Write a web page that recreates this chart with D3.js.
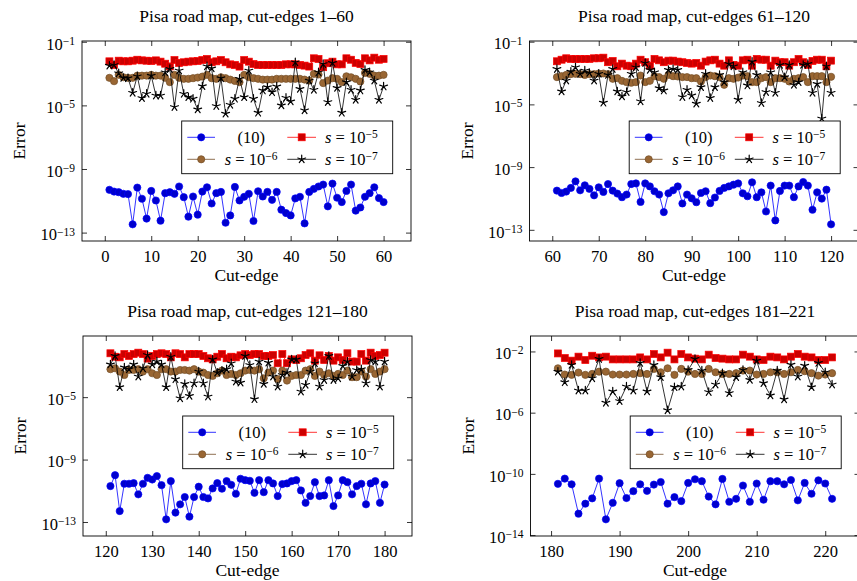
<!DOCTYPE html>
<html>
<head>
<meta charset="utf-8">
<script src="https://cdn.jsdelivr.net/npm/d3@7"></script>
<style>
  body { margin: 0; background: #fff; }
  svg { display: block; }
  text { font-family: "Liberation Serif", "Times New Roman", serif; fill: #000; }
</style>
</head>
<body>
<svg id="chart" width="857" height="581"></svg>
<script>
// Cut-edge indices of the Pisa road map
const cutEdges = d3.range(1, 222);

// log10 of the error, formula (10)
const logErrEq10 = [
  // 1-60
  -10.31,-10.42,-10.46,-10.56,-10.58,-12.48,-10.17,-10.87,-12.12,-10.38,
  -10.98,-12.25,-10.52,-10.46,-10.56,-10.10,-10.77,-12.00,-10.73,-11.87,
  -10.42,-10.15,-11.17,-10.52,-10.44,-12.38,-11.92,-10.13,-10.98,-10.75,
  -10.56,-12.27,-10.40,-10.73,-10.44,-10.94,-10.44,-11.56,-11.77,-11.92,
  -10.85,-10.75,-12.42,-10.44,-10.25,-10.10,-9.98,-11.35,-9.92,-10.81,
  -11.08,-10.38,-9.98,-11.62,-11.42,-10.75,-10.52,-10.15,-10.83,-11.08,
  // 61-120
  -10.50,-10.65,-10.56,-10.33,-9.91,-10.48,-10.16,-10.39,-10.80,-10.29,
  -10.58,-10.08,-10.50,-10.69,-10.92,-10.75,-10.08,-10.04,-11.22,-10.04,
  -10.23,-10.54,-10.75,-11.87,-10.67,-10.48,-10.23,-11.32,-10.75,-10.99,
  -11.24,-10.65,-10.54,-11.30,-10.94,-10.52,-10.33,-10.23,-10.12,-10.04,
  -10.67,-10.86,-9.97,-10.92,-10.61,-11.83,-10.18,-12.40,-10.52,-10.18,
  -10.18,-10.92,-10.23,-9.95,-10.18,-11.72,-10.61,-11.01,-10.44,-12.65,
  // 121-180
  -10.70,-10.00,-12.30,-10.55,-10.55,-10.51,-11.23,-10.55,-10.17,-10.28,
  -10.06,-10.64,-12.83,-10.38,-12.40,-11.87,-11.40,-12.66,-11.40,-10.74,
  -11.40,-11.49,-10.85,-10.51,-10.87,-10.38,-10.62,-11.19,-10.23,-10.32,
  -10.36,-11.13,-10.32,-11.09,-10.32,-10.53,-11.34,-10.57,-10.53,-10.38,
  -10.32,-10.98,-11.77,-11.34,-10.45,-11.34,-11.30,-10.32,-11.98,-11.30,
  -10.32,-10.45,-11.23,-10.70,-10.55,-11.87,-10.53,-10.38,-11.77,-10.60,
  // 181-221
  -10.65,-10.31,-10.68,-12.60,-11.95,-11.60,-10.31,-12.97,-11.89,-10.61,
  -11.58,-11.13,-10.68,-11.11,-10.70,-10.53,-11.95,-11.52,-11.78,-10.59,
  -10.35,-10.48,-11.48,-11.99,-10.33,-11.82,-11.63,-10.76,-11.82,-10.63,
  -11.69,-10.48,-10.48,-10.68,-10.40,-11.73,-10.59,-11.30,-10.42,-10.63,
  -11.63
];

// log10 of the error, s = 1e-5
const logErrS5 = [
  -2.23,-2.45,-2.19,-2.23,-2.23,-2.19,-2.13,-2.17,-2.19,-2.21,
  -2.17,-2.25,-2.38,-2.55,-2.15,-2.33,-2.29,-2.25,-2.23,-2.21,
  -2.15,-2.08,-2.29,-2.23,-2.15,-2.29,-2.42,-2.46,-2.56,-2.15,
  -2.25,-2.40,-2.46,-2.46,-2.46,-2.46,-2.46,-2.46,-2.42,-2.42,
  -2.42,-2.46,-2.50,-2.56,-2.04,-2.08,-2.60,-2.35,-2.25,-2.42,
  -2.42,-2.04,-2.13,-2.33,-2.40,-2.04,-2.17,-2.00,-2.13,-2.08,
  -2.25,-2.15,-2.06,-2.10,-2.10,-2.10,-2.10,-2.10,-2.06,-2.06,
  -2.02,-2.31,-2.23,-2.57,-2.40,-2.53,-2.57,-2.40,-2.15,-2.31,
  -2.53,-2.10,-2.19,-2.31,-2.21,-2.21,-2.27,-2.31,-2.36,-2.40,
  -2.36,-2.53,-2.27,-2.19,-2.15,-2.40,-2.53,-2.19,-2.48,-2.53,
  -2.19,-2.15,-2.53,-2.10,-2.15,-2.15,-2.53,-2.21,-2.31,-2.31,
  -2.53,-2.31,-2.10,-2.31,-2.48,-2.23,-2.15,-2.15,-2.57,-2.21,
  -2.19,-2.41,-2.45,-2.24,-2.36,-2.24,-2.15,-2.24,-2.53,-2.36,
  -2.24,-2.19,-2.24,-2.45,-2.19,-2.24,-2.45,-2.24,-2.24,-2.24,
  -2.36,-2.51,-2.58,-2.41,-2.24,-2.51,-2.41,-2.45,-2.32,-2.24,
  -2.30,-2.24,-2.24,-2.36,-2.36,-2.30,-2.83,-2.24,-2.83,-2.58,
  -2.62,-2.51,-2.30,-2.19,-2.66,-2.32,-2.62,-2.36,-2.66,-2.45,
  -2.62,-2.19,-2.72,-2.72,-2.24,-2.66,-2.15,-2.36,-2.30,-2.15,
  -2.13,-2.43,-2.60,-2.34,-2.56,-2.28,-2.39,-2.34,-2.52,-2.52,
  -2.52,-2.52,-2.39,-2.52,-2.17,-2.39,-2.08,-2.52,-2.17,-2.39,
  -2.47,-2.52,-2.21,-2.43,-2.47,-2.52,-2.52,-2.21,-2.34,-2.52,
  -2.56,-2.34,-2.39,-2.52,-2.34,-2.17,-2.34,-2.39,-2.56,-2.56,
  -2.39
];

// log10 of the error, s = 1e-6
const logErrS6 = [
  -3.27,-3.48,-3.08,-3.23,-3.27,-3.27,-3.13,-3.13,-3.13,-3.08,
  -3.13,-3.13,-3.27,-3.54,-3.08,-3.27,-3.33,-3.33,-3.29,-3.25,
  -3.19,-3.08,-3.29,-3.33,-3.23,-3.29,-3.38,-3.46,-3.54,-3.08,
  -3.23,-3.29,-3.33,-3.38,-3.38,-3.38,-3.33,-3.33,-3.33,-3.33,
  -3.33,-3.33,-3.38,-3.44,-3.02,-3.06,-3.60,-3.44,-3.29,-3.33,
  -3.54,-3.17,-3.23,-3.33,-3.50,-2.96,-3.02,-3.13,-3.13,-3.08,
  -3.26,-3.20,-3.12,-3.07,-3.05,-3.07,-3.12,-3.07,-3.07,-3.03,
  -3.03,-3.07,-3.37,-3.33,-3.50,-3.58,-3.62,-3.58,-3.16,-3.58,
  -3.50,-3.20,-3.26,-3.37,-3.12,-3.20,-3.22,-3.26,-3.26,-3.33,
  -3.33,-3.54,-3.26,-3.16,-3.20,-3.26,-3.75,-3.33,-3.37,-3.29,
  -3.16,-3.20,-3.58,-3.58,-3.33,-3.26,-3.58,-3.33,-3.33,-3.37,
  -3.54,-3.37,-3.33,-3.26,-3.58,-3.20,-3.20,-3.20,-3.58,-3.24,
  -3.21,-3.15,-3.36,-3.58,-3.26,-3.26,-3.21,-3.36,-3.21,-3.47,
  -3.58,-3.21,-3.21,-3.36,-3.36,-3.26,-3.26,-3.30,-3.21,-3.36,
  -3.43,-3.58,-3.64,-3.47,-3.30,-3.58,-3.51,-3.58,-3.47,-3.30,
  -3.26,-3.30,-3.21,-3.79,-3.43,-3.30,-3.85,-3.30,-3.94,-3.64,
  -3.58,-3.58,-3.30,-3.21,-3.64,-3.36,-3.58,-3.47,-3.64,-3.51,
  -3.58,-3.30,-3.72,-3.72,-3.36,-3.68,-3.21,-3.51,-3.36,-3.21,
  -3.10,-3.51,-3.53,-3.38,-3.53,-3.47,-3.32,-3.32,-3.51,-3.51,
  -3.51,-3.47,-3.42,-3.47,-3.14,-3.36,-3.10,-3.53,-3.14,-3.32,
  -3.47,-3.47,-3.14,-3.36,-3.47,-3.47,-3.42,-3.25,-3.25,-3.51,
  -3.47,-3.36,-3.36,-3.47,-3.36,-3.21,-3.29,-3.42,-3.58,-3.51,
  -3.42
];

// log10 of the error, s = 1e-7
const logErrS7 = [
  -2.50,-2.46,-2.98,-3.27,-3.29,-4.21,-3.17,-4.54,-4.27,-3.13,
  -4.38,-4.38,-2.92,-2.71,-5.10,-2.81,-4.27,-4.48,-4.58,-5.25,
  -3.79,-2.54,-2.67,-5.04,-3.29,-5.52,-4.96,-4.58,-3.33,-4.48,
  -2.81,-4.58,-5.46,-4.06,-3.85,-4.17,-3.81,-5.00,-4.52,-4.75,
  -2.29,-3.96,-5.31,-3.44,-4.02,-2.92,-2.40,-4.79,-2.33,-3.90,
  -5.46,-3.54,-4.02,-4.65,-4.06,-2.77,-2.92,-3.44,-4.65,-3.81,
  -2.74,-4.17,-3.48,-2.91,-2.63,-3.05,-2.84,-2.99,-3.48,-3.05,
  -4.89,-3.12,-2.74,-4.17,-4.49,-4.21,-3.05,-2.63,-4.80,-2.36,
  -2.80,-2.95,-3.96,-4.11,-2.80,-2.74,-2.80,-4.53,-4.07,-4.43,
  -4.95,-3.90,-3.05,-4.59,-3.90,-3.12,-3.58,-2.42,-2.57,-4.70,
  -2.95,-3.79,-2.27,-3.12,-4.91,-4.21,-2.95,-4.26,-2.48,-3.26,
  -2.48,-3.75,-3.58,-2.48,-2.42,-4.26,-3.69,-5.90,-2.57,-4.26,
  -2.90,-2.36,-4.36,-3.09,-3.21,-2.90,-3.68,-3.15,-2.30,-2.90,
  -2.72,-2.90,-4.36,-2.41,-3.85,-5.07,-4.15,-4.92,-4.11,-3.36,
  -4.11,-4.96,-2.58,-3.43,-3.30,-3.21,-2.83,-4.00,-4.07,-2.36,
  -2.94,-5.13,-2.72,-4.15,-2.79,-3.68,-4.32,-3.58,-3.43,-2.58,
  -2.58,-4.64,-4.21,-3.36,-2.83,-4.32,-3.90,-2.36,-3.90,-3.79,
  -3.00,-2.72,-3.68,-3.26,-3.21,-4.11,-2.62,-2.72,-4.32,-2.72,
  -3.32,-4.01,-2.88,-4.55,-4.55,-3.75,-2.49,-5.35,-4.61,-5.24,
  -4.29,-4.55,-2.75,-4.61,-2.88,-3.68,-5.84,-4.33,-4.29,-3.21,
  -2.49,-3.25,-4.65,-4.16,-3.42,-4.72,-3.68,-3.21,-3.86,-2.60,
  -4.07,-4.87,-3.25,-5.13,-2.86,-3.64,-2.93,-4.33,-2.75,-3.36,
  -4.16
];

// Cut-edge ranges shown in each panel, and the exponents labelled on their y axes
const panelRanges = [[1, 60], [61, 120], [121, 180], [181, 221]];
const xTickValues = [d3.range(0, 61, 10), d3.range(60, 121, 10), d3.range(120, 181, 10), d3.range(180, 221, 10)];
const yTickExponents = [[-1, -5, -9, -13], [-1, -5, -9, -13], [-1, -5, -9, -13], [-2, -6, -10, -14]];

const legendLabels = ["(10)", "1e-5", "1e-6", "1e-7"];

// ---- layout and styles ----
const panelBoxes = [
  { left: 82, top: 41 }, { left: 529.5, top: 41 },
  { left: 83, top: 336 }, { left: 530.5, top: 336 }
];
const plotW = 329, plotH = 200;

const seriesStyles = [
  { values: logErrEq10, line: "#0000ff", mark: "circle", fill: "#0000cc", stroke: "#0000ff" },
  { values: logErrS5, line: "#ff0000", mark: "square", fill: "#cc0000", stroke: "#ff0000" },
  { values: logErrS6, line: "#734d26", mark: "circle", fill: "#996633", stroke: "#734d26" },
  { values: logErrS7, line: "#000000", mark: "star", fill: "none", stroke: "#000000" }
];

const svg = d3.select("#chart");

function drawMark(sel, style, cx, cy) {
  if (style.mark === "circle") {
    sel.append("circle").attr("cx", cx).attr("cy", cy).attr("r", 3.6)
      .attr("fill", style.fill).attr("stroke", style.stroke).attr("stroke-width", 0.7);
  } else if (style.mark === "square") {
    sel.append("rect").attr("x", cx - 3.5).attr("y", cy - 3.5).attr("width", 7).attr("height", 7)
      .attr("fill", style.fill).attr("stroke", style.stroke).attr("stroke-width", 0.7);
  } else {
    const r = 4.1;
    let d = "";
    for (let k = 0; k < 5; k++) {
      const a = -Math.PI / 2 + k * 2 * Math.PI / 5;
      d += `M${cx},${cy}L${cx + r * Math.cos(a)},${cy + r * Math.sin(a)}`;
    }
    sel.append("path").attr("d", d).attr("stroke", style.stroke).attr("stroke-width", 1.2)
      .attr("fill", "none").attr("stroke-linecap", "round");
  }
}

// "s = 10^-k" style labels: italic s, superscripted exponent
function writeLabel(textSel, label) {
  if (label.startsWith("1e")) {
    const exp = label.slice(3);
    textSel.append("tspan").attr("font-style", "italic").text("s");
    textSel.append("tspan").text(" = 10");
    textSel.append("tspan").attr("dy", "-0.45em").attr("font-size", "11.5px").text("\u2212" + exp);
  } else {
    textSel.text(label);
  }
}

panelRanges.forEach(([first, last], p) => {
  const { left, top } = panelBoxes[p];
  const bottom = top + plotH, right = left + plotW;
  const idx = cutEdges.map((e, i) => i).filter(i => cutEdges[i] >= first && cutEdges[i] <= last);

  // x: 10% enlargement of the index range on each side
  const xPad = 0.1 * (last - first);
  const x = d3.scaleLinear().domain([first - xPad, last + xPad]).range([left, right]);

  // y: log axis, 10% enlargement in decades
  const all = [];
  seriesStyles.forEach(s => idx.forEach(i => all.push(s.values[i])));
  const lo = d3.min(all), hi = d3.max(all), yPad = 0.1 * (hi - lo);
  const y = d3.scaleLog().domain([10 ** (lo - yPad), 10 ** (hi + yPad)]).range([bottom, top]);

  const g = svg.append("g");

  // data series
  seriesStyles.forEach(s => {
    const pts = idx.map(i => ({ e: cutEdges[i], v: 10 ** s.values[i] }));
    g.append("path").datum(pts)
      .attr("fill", "none").attr("stroke", s.line).attr("stroke-width", 0.8)
      .attr("d", d3.line().x(d => x(d.e)).y(d => y(d.v)));
    const mg = g.append("g");
    pts.forEach(d => drawMark(mg, s, x(d.e), y(d.v)));
  });

  // axes with inward ticks on all four sides
  const yTicks = yTickExponents[p].filter(e => e >= lo - yPad - 1e-9 && e <= hi + yPad + 1e-9).map(e => 10 ** e);
  const xTicks = xTickValues[p];

  const gx = g.append("g").attr("transform", `translate(0,${bottom})`)
    .call(d3.axisBottom(x).tickValues(xTicks).tickSizeInner(-5).tickSizeOuter(0).tickPadding(9).tickFormat(d3.format("d")));
  gx.attr("font-size", 16.5).attr("font-family", null);
  g.append("g").attr("transform", `translate(0,${top})`)
    .call(d3.axisTop(x).tickValues(xTicks).tickSizeInner(-5).tickSizeOuter(0).tickFormat(""));

  const gy = g.append("g").attr("transform", `translate(${left},0)`)
    .call(d3.axisLeft(y).tickValues(yTicks).tickSizeInner(-5).tickSizeOuter(0).tickPadding(7).tickFormat(d => d));
  gy.attr("font-size", 16.5).attr("font-family", null);
  gy.selectAll(".tick text").each(function (d) {
    const e = Math.round(Math.log10(d));
    const t = d3.select(this).text(null).attr("dy", "0.44em");
    t.append("tspan").text("10");
    t.append("tspan").attr("dy", "-0.42em").attr("font-size", "11.5px").text("\u2212" + Math.abs(e));
  });
  g.append("g").attr("transform", `translate(${right},0)`)
    .call(d3.axisRight(y).tickValues(yTicks).tickSizeInner(-5).tickSizeOuter(0).tickFormat(""));

  g.selectAll(".domain").remove();
  g.selectAll(".tick line").attr("stroke-width", 0.8);

  g.append("rect").attr("x", left).attr("y", top).attr("width", plotW).attr("height", plotH)
    .attr("fill", "none").attr("stroke", "#000").attr("stroke-width", 0.9);

  // titles and axis labels
  g.append("text").attr("x", left + plotW / 2).attr("y", top - 19).attr("text-anchor", "middle")
    .attr("font-size", 17.5).text(`Pisa road map, cut-edges ${first}\u2013${last}`);
  g.append("text").attr("x", left + plotW / 2).attr("y", bottom + 40).attr("text-anchor", "middle")
    .attr("font-size", 17.5).text("Cut-edge");
  g.append("text").attr("transform", `translate(${left - 57},${top + plotH / 2}) rotate(-90)`)
    .attr("text-anchor", "middle").attr("font-size", 17.5).text("Error");

  // legend
  const lw = 211, lh = 52.7;
  const lx = right - 18.3 - lw, ly = top + 80;
  const lg = g.append("g").attr("transform", `translate(${lx},${ly})`);
  lg.append("rect").attr("width", lw).attr("height", lh).attr("fill", "#fff")
    .attr("stroke", "#000").attr("stroke-width", 0.9);
  const cols = [{ a: 5.6, b: 33.3, m: 19.5, t: 69.5 }, { a: 105.6, b: 134.3, m: 120, t: 169.6 }];
  const rows = [16.3, 38.3];
  seriesStyles.forEach((s, k) => {
    const c = cols[k % 2], ry = rows[Math.floor(k / 2)];
    lg.append("line").attr("x1", c.a).attr("x2", c.b).attr("y1", ry).attr("y2", ry)
      .attr("stroke", s.line).attr("stroke-width", 0.8);
    drawMark(lg, s, c.m, ry);
    const t = lg.append("text").attr("x", c.t).attr("y", ry + 5.5).attr("text-anchor", "middle")
      .attr("font-size", 16.5);
    writeLabel(t, legendLabels[k]);
  });
});
</script>
</body>
</html>
